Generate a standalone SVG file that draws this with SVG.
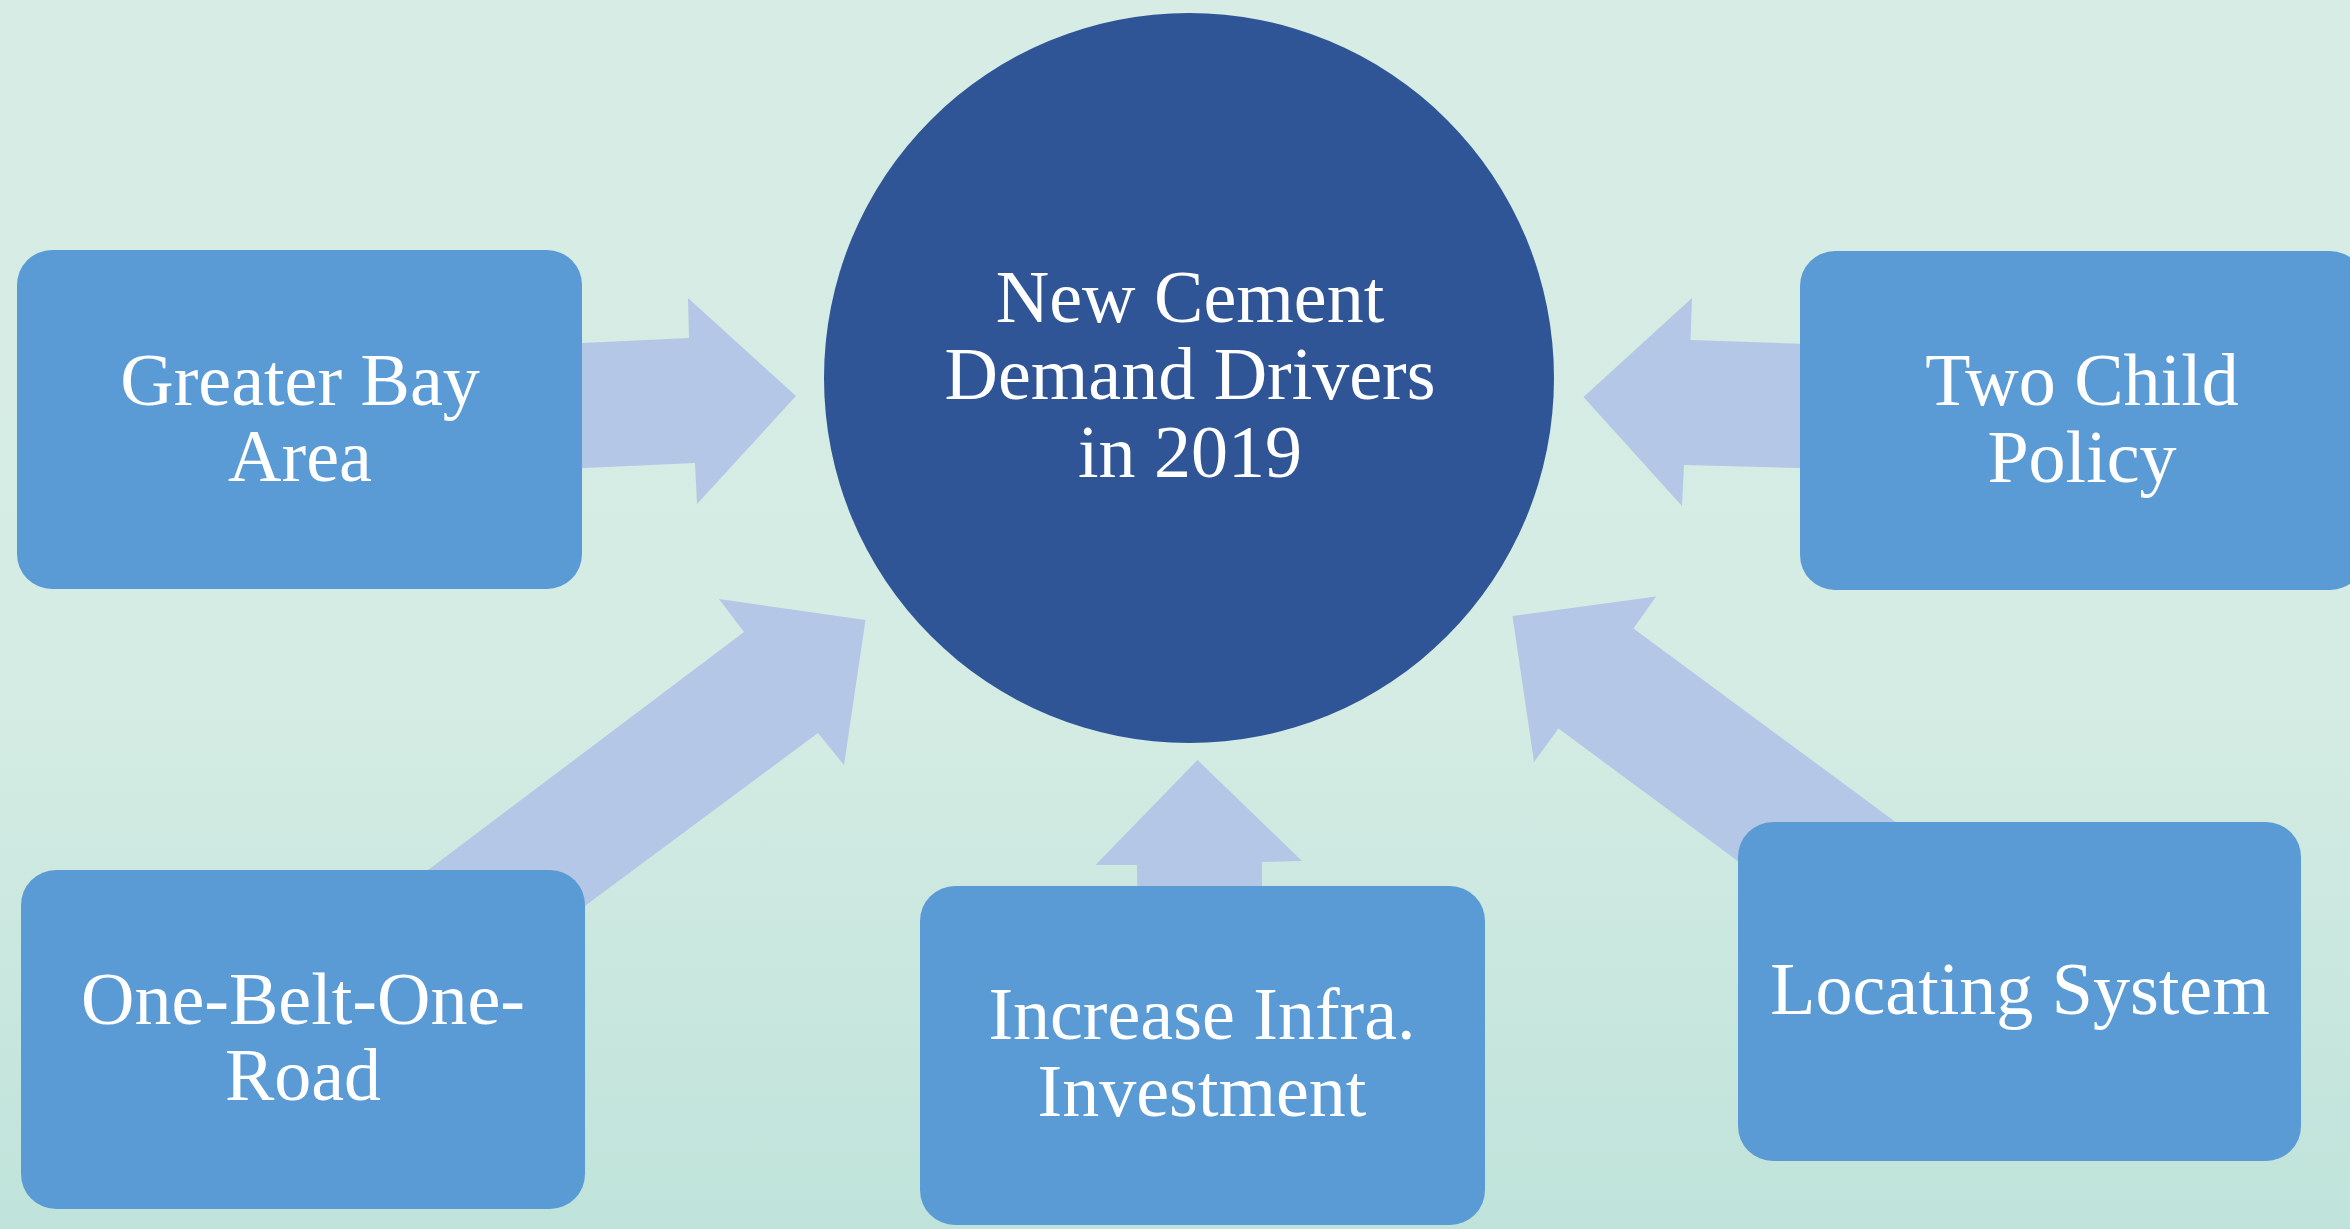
<svg xmlns="http://www.w3.org/2000/svg" width="2350" height="1229" viewBox="0 0 2350 1229">
  <defs>
    <linearGradient id="bg" x1="0" y1="0" x2="0" y2="1">
      <stop offset="0" stop-color="#D6ECE4"/>
      <stop offset="0.55" stop-color="#D5ECE4"/>
      <stop offset="1" stop-color="#BFE3DA"/>
    </linearGradient>
    <style>
      .box { fill: #5B9BD5; }
      .hub { fill: #2F5597; }
      .arrow { fill: #B4C7E7; }
      .lbl { font-family: "Liberation Serif", "Times New Roman", serif; font-size: 74px; fill: #FFFFFF; text-anchor: middle; }
    </style>
  </defs>
  <rect x="0" y="0" width="2350" height="1229" fill="url(#bg)"/>

  <g id="connectors">
    <polygon class="arrow" points="540,345 689,338 688,298 796,396 697,504 695,463 540,470"/>
    <polygon class="arrow" points="1840,345 1690.5,340 1692,298 1583.5,397 1682,506 1684,465 1840,469"/>
    <polygon class="arrow" points="322,950 744,632 719,599 865.5,620 844,765 818,733 458,1000"/>
    <polygon class="arrow" points="2069,950 1633.5,628.5 1656,596.5 1512.5,616 1534,762 1558.5,728.5 1925.5,1000"/>
    <polygon class="arrow" points="1138,950 1137,865 1095.5,865 1197.5,760 1302,861 1262,862 1262,950"/>
  </g>

  <g id="hub">
    <circle class="hub" cx="1189" cy="378" r="365"/>
    <text class="lbl"><tspan x="1190" y="322">New Cement</tspan><tspan x="1190" y="399">Demand Drivers</tspan><tspan x="1190" y="477">in 2019</tspan></text>
  </g>

  <g id="greater-bay-area">
    <rect class="box" x="17" y="250" width="565" height="339" rx="35" ry="35"/>
    <text class="lbl"><tspan x="300" y="405">Greater Bay</tspan><tspan x="300" y="481">Area</tspan></text>
  </g>

  <g id="two-child-policy">
    <rect class="box" x="1800" y="251" width="565" height="339" rx="35" ry="35"/>
    <text class="lbl"><tspan x="2082" y="405">Two Child</tspan><tspan x="2082" y="482">Policy</tspan></text>
  </g>

  <g id="one-belt-one-road">
    <rect class="box" x="21" y="870" width="564" height="339" rx="35" ry="35"/>
    <text class="lbl"><tspan x="303" y="1024">One-Belt-One-</tspan><tspan x="303" y="1100">Road</tspan></text>
  </g>

  <g id="increase-infra-investment">
    <rect class="box" x="920" y="886" width="565" height="339" rx="35" ry="35"/>
    <text class="lbl"><tspan x="1202" y="1039">Increase Infra.</tspan><tspan x="1202" y="1116">Investment</tspan></text>
  </g>

  <g id="locating-system">
    <rect class="box" x="1738" y="822" width="563" height="339" rx="35" ry="35"/>
    <text class="lbl" x="2020" y="1014">Locating System</text>
  </g>
</svg>
